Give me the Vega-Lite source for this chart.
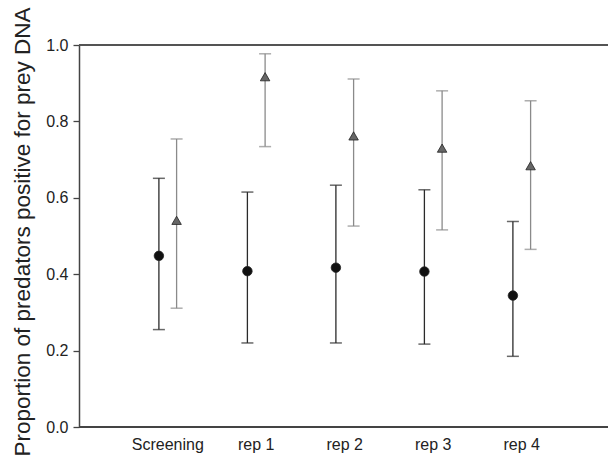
{
  "$schema": "https://vega.github.io/schema/vega-lite/v6.json",
  "width": 529,
  "height": 382,
  "autosize": {"type": "none"},
  "padding": {"left": 79, "top": 45, "right": 0, "bottom": 36},
  "background": "white",
  "config": {
    "view": {"stroke": null},
    "font": "Liberation Sans"
  },
  "data": {
    "values": [
      {"cat": "Screening", "grp": "A", "p": 0.448, "lo": 0.255, "hi": 0.651},
      {"cat": "Screening", "grp": "B", "p": 0.541, "lo": 0.311, "hi": 0.754},
      {"cat": "rep 1", "grp": "A", "p": 0.408, "lo": 0.220, "hi": 0.615},
      {"cat": "rep 1", "grp": "B", "p": 0.917, "lo": 0.734, "hi": 0.977},
      {"cat": "rep 2", "grp": "A", "p": 0.417, "lo": 0.220, "hi": 0.633},
      {"cat": "rep 2", "grp": "B", "p": 0.762, "lo": 0.526, "hi": 0.911},
      {"cat": "rep 3", "grp": "A", "p": 0.407, "lo": 0.217, "hi": 0.621},
      {"cat": "rep 3", "grp": "B", "p": 0.730, "lo": 0.516, "hi": 0.880},
      {"cat": "rep 4", "grp": "A", "p": 0.344, "lo": 0.185, "hi": 0.538},
      {"cat": "rep 4", "grp": "B", "p": 0.684, "lo": 0.465, "hi": 0.854}
    ]
  },
  "encoding": {
    "x": {
      "field": "cat",
      "type": "nominal",
      "sort": null,
      "scale": {"type": "band", "range": [44.5, 487], "paddingInner": 0, "paddingOuter": 0},
      "axis": {
        "title": null,
        "labelAngle": 0,
        "labelFontSize": 16,
        "labelColor": "#222",
        "labelPadding": 9,
        "ticks": false,
        "domain": false,
        "grid": false
      }
    },
    "xOffset": {
      "field": "grp",
      "type": "nominal",
      "scale": {"type": "point", "range": [35.4, 53.1], "padding": 0}
    }
  },
  "layer": [
    {
      "mark": {"type": "rule", "color": "#555", "strokeWidth": 1.5},
      "encoding": {
        "x": {"value": 0},
        "x2": {"value": 529},
        "xOffset": {"value": 0},
        "y": {"datum": 1, "type": "quantitative"}
      }
    },
    {
      "mark": {"type": "rule", "color": "#444", "strokeWidth": 1.5},
      "encoding": {
        "x": {"value": 0},
        "x2": {"value": 529},
        "xOffset": {"value": 0},
        "y": {"datum": 0, "type": "quantitative"}
      }
    },
    {
      "mark": {"type": "rule", "strokeWidth": 1.3},
      "encoding": {
        "y": {
          "field": "lo",
          "type": "quantitative",
          "scale": {"domain": [0, 1]},
          "axis": {
            "title": "Proportion of predators positive for prey DNA",
            "titleFontSize": 22.5,
            "titleFontWeight": "normal",
            "titleColor": "#222",
            "titleX": -50,
            "titleY": 186.5,
            "titleBaseline": "alphabetic",
            "titleAlign": "center",
            "values": [0, 0.2, 0.4, 0.6, 0.8, 1.0],
            "format": ".1f",
            "labelFontSize": 16,
            "labelColor": "#222",
            "labelPadding": 5,
            "tickSize": 6,
            "tickColor": "#444",
            "tickWidth": 1.3,
            "domainColor": "#444",
            "domainWidth": 1.5,
            "grid": false
          }
        },
        "y2": {"field": "hi"},
        "color": {
          "field": "grp",
          "type": "nominal",
          "scale": {"domain": ["A", "B"], "range": ["#2a2a2a", "#8a8a8a"]},
          "legend": null
        }
      }
    },
    {
      "mark": {"type": "tick", "thickness": 1.5, "size": 12},
      "encoding": {
        "y": {"field": "lo", "type": "quantitative"},
        "color": {"field": "grp", "type": "nominal", "legend": null}
      }
    },
    {
      "mark": {"type": "tick", "thickness": 1.5, "size": 12},
      "encoding": {
        "y": {"field": "hi", "type": "quantitative"},
        "color": {"field": "grp", "type": "nominal", "legend": null}
      }
    },
    {
      "mark": {"type": "point", "filled": true, "opacity": 1, "size": 90, "stroke": "#222", "strokeWidth": 0.8},
      "encoding": {
        "y": {"field": "p", "type": "quantitative"},
        "shape": {
          "field": "grp",
          "type": "nominal",
          "scale": {"domain": ["A", "B"], "range": ["circle", "triangle-up"]},
          "legend": null
        },
        "fill": {
          "field": "grp",
          "type": "nominal",
          "scale": {"domain": ["A", "B"], "range": ["#111111", "#666666"]},
          "legend": null
        }
      }
    }
  ]
}
